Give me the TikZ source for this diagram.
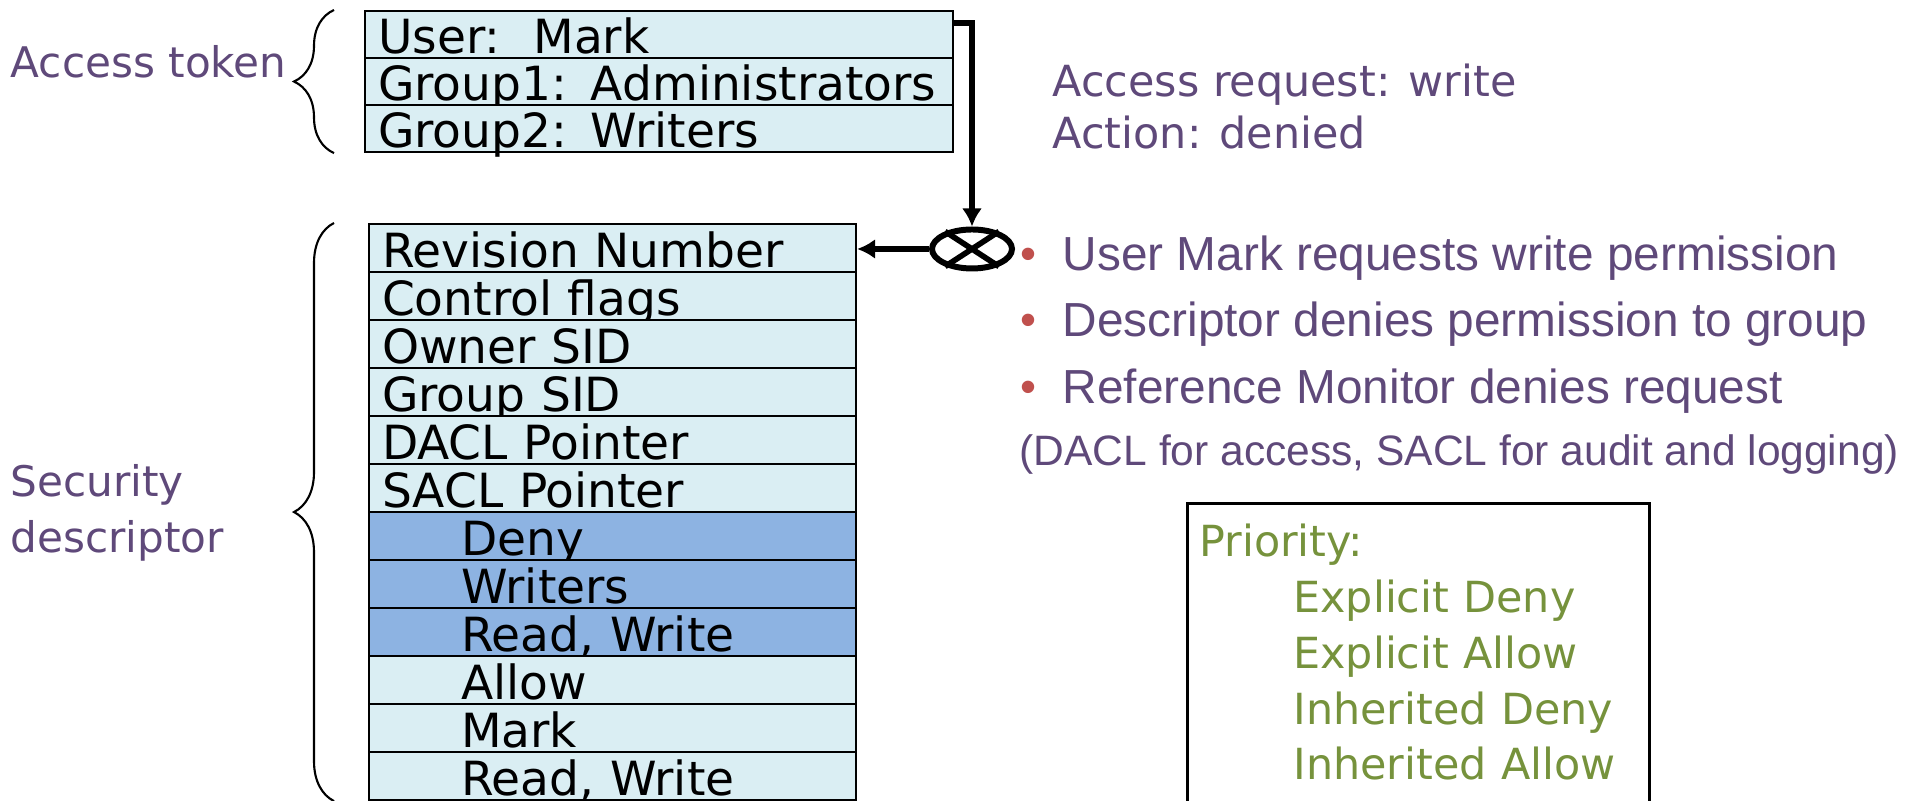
\documentclass[tikz,border=0pt]{standalone}
\usepackage{fontspec}
\setmainfont{DejaVu Sans}
\newfontfamily\bulletfont{Liberation Sans}
\usepackage{xcolor}
\usetikzlibrary{arrows.meta,shapes.geometric,decorations.pathreplacing}
\definecolor{rowcolor}{HTML}{DAEEF3}
\definecolor{acecolor}{HTML}{8DB3E2}
\definecolor{labelcolor}{HTML}{5F497A}
\definecolor{prioritycolor}{HTML}{76923C}
\definecolor{dotcolor}{HTML}{C0504D}
\newcommand{\reddot}{\makebox[0.42cm][l]{\raisebox{0.5pt}{\textcolor{dotcolor}{\fontsize{13}{13}\selectfont\textbullet}}}}
\tikzset{tokenrow/.style={draw,line width=0.6pt,fill=rowcolor,anchor=north west,minimum width=5.88cm,minimum height=0.47cm,text width=5.62cm,inner xsep=0.13cm,inner ysep=0pt,text height=0.37cm,text depth=0pt,align=left,font=\fontsize{13.4}{16}\selectfont}}
\tikzset{descrow/.style={tokenrow,minimum width=4.87cm,text width=4.61cm,minimum height=0.48cm,text height=0.38cm}}
\tikzset{acerow/.style={descrow,execute at begin node=\hspace*{0.79cm}}}
\tikzset{denyrow/.style={acerow,fill=acecolor}}
\tikzset{sidelabel/.style={inner sep=0pt,text=labelcolor,align=left,font=\fontsize{12}{15.9}\selectfont}}
\tikzset{bulletline/.style={anchor=base west,inner sep=0pt,text=labelcolor,font=\bulletfont\fontsize{13.6}{16}\selectfont}}
\tikzset{bracket/.style={decorate,decoration={brace,amplitude=0.4cm},line width=0.6pt}}
\tikzset{monitor/.style={ellipse,draw,line width=1.7pt,minimum width=0.80cm,minimum height=0.39cm,inner sep=0pt}}
\tikzset{request/.style={line width=1.6pt,-{Latex[length=0.18cm,width=0.2cm]}}}

\begin{document}
\begin{tikzpicture}
	\useasboundingbox (0,0) rectangle (19.07,-8.01);
	\clip (0,0) rectangle (19.07,-8.01);
	%
	\node[tokenrow] (u1) at (3.64,-0.10) {User:\hspace{0.33cm}Mark};
	\node[tokenrow] (u2) at (3.64,-0.57) {Group1: Administrators};
	\node[tokenrow] (u3) at (3.64,-1.04) {Group2: Writers};
	\node[sidelabel,anchor=base west] (tok) at (0.10,-0.78) {Access token};
	\draw[bracket] ([xshift=-0.30cm]u3.south west) -- ([xshift=-0.30cm]u1.north west);
	%
	\node[descrow] (r1) at (3.68,-2.23) {Revision Number};
	\node[descrow] (r2) at (3.68,-2.71) {Control flags};
	\node[descrow] (r3) at (3.68,-3.19) {Owner SID};
	\node[descrow] (r4) at (3.68,-3.67) {Group SID};
	\node[descrow] (r5) at (3.68,-4.15) {DACL Pointer};
	\node[descrow] (r6) at (3.68,-4.63) {SACL Pointer};
	\node[denyrow] (r7) at (3.68,-5.11) {Deny};
	\node[denyrow] (r8) at (3.68,-5.59) {Writers};
	\node[denyrow] (r9) at (3.68,-6.07) {Read, Write};
	\node[acerow] (r10) at (3.68,-6.55) {Allow};
	\node[acerow] (r11) at (3.68,-7.03) {Mark};
	\node[acerow] (r12) at (3.68,-7.51) {Read, Write};
	\node[sidelabel,anchor=north west] (sec) at (0.10,-4.64) {Security\\descriptor};
	\draw[bracket] ([xshift=-0.34cm]r12.south west) -- ([xshift=-0.34cm]r1.north west);
	%
	\node[monitor] (xo) at (9.72,-2.49) {};
	\draw[line width=1.6pt] (xo.33) -- (xo.213) (xo.147) -- (xo.-33);
	\draw[request] ([yshift=-0.13cm]u1.north east) -| (xo.north);
	\draw[request] (xo.west) -- (xo.west -| r1.east);
	%
	\node[sidelabel,anchor=north west,font=\fontsize{12.2}{14.8}\selectfont] (req) at (10.52,-0.63) {Access request: write\\Action: denied};
	\node[bulletline] (b1) at (10.20,-2.71) {\reddot User Mark requests write permission};
	\node[bulletline] (b2) at (10.20,-3.37) {\reddot Descriptor denies permission to group};
	\node[bulletline] (b3) at (10.20,-4.04) {\reddot Reference Monitor denies request};
	\node[bulletline,font=\bulletfont\fontsize{12.1}{14}\selectfont] (note) at (10.19,-4.66) {(DACL for access, SACL for audit and logging)};
	%
	\node[draw,line width=0.8pt,anchor=north west,text width=4.38cm,inner xsep=0.12cm,inner ysep=0.21cm,align=left,text depth=3.2cm,text=prioritycolor,font=\fontsize{12.2}{15.85}\selectfont] (prio) at (11.86,-5.02) {Priority:\\\hspace*{0.94cm}Explicit Deny\\\hspace*{0.94cm}Explicit Allow\\\hspace*{0.94cm}Inherited Deny\\\hspace*{0.94cm}Inherited Allow};
\end{tikzpicture}
\end{document}
